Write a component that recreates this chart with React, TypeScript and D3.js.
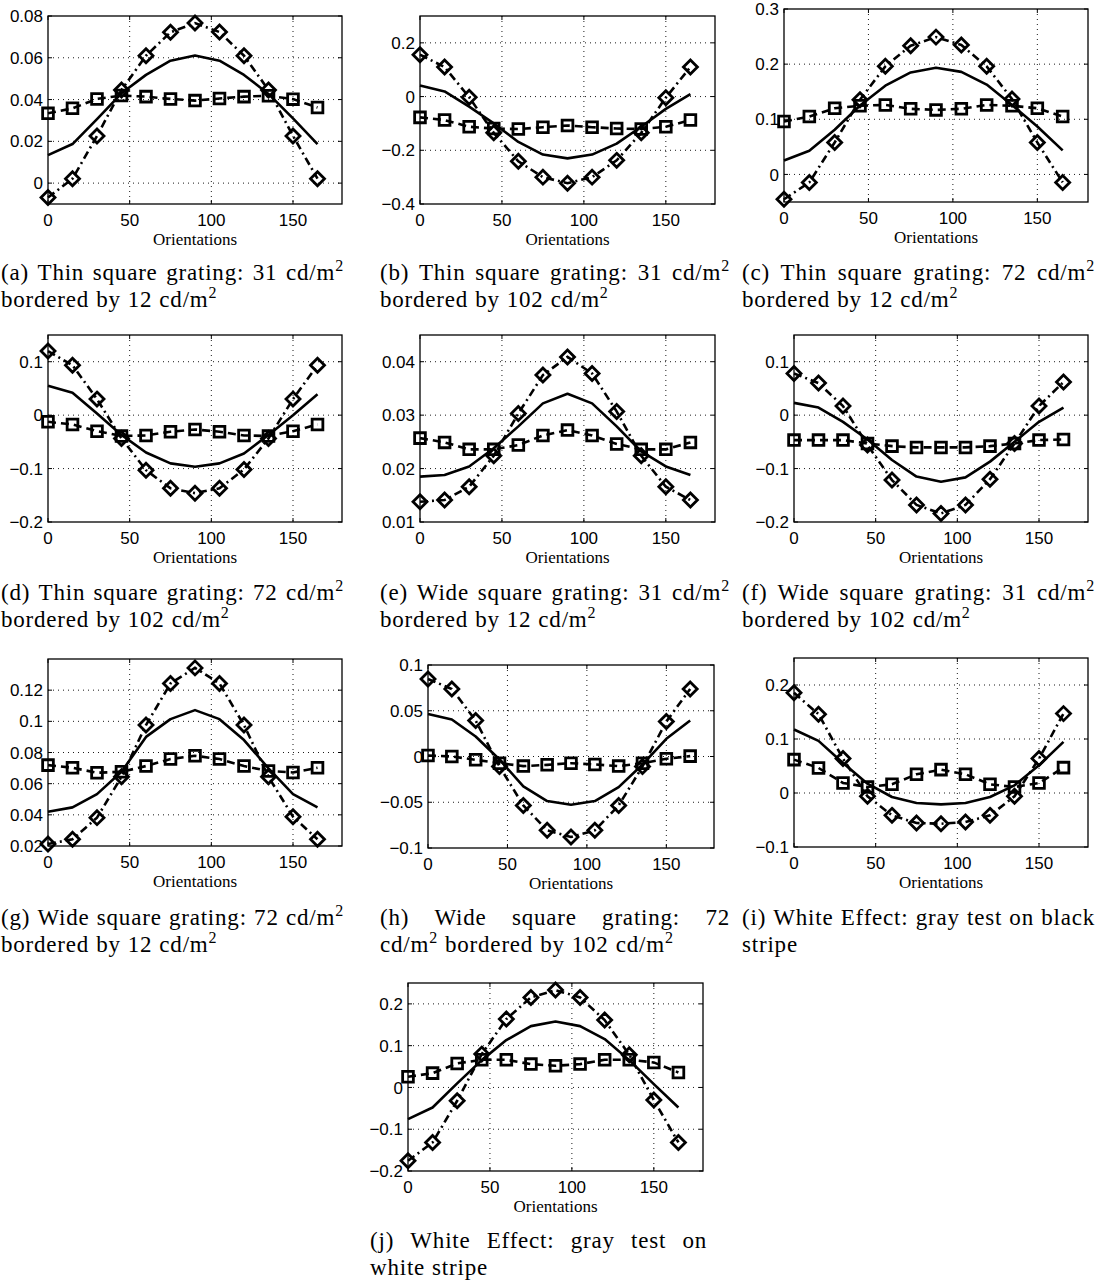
import React, { useEffect, useRef } from 'react';
import * as d3 from 'd3';

const orientations = [0, 15, 30, 45, 60, 75, 90, 105, 120, 135, 150, 165];
const xTicks = [0, 50, 100, 150];

// (a) thin 31 / 12
const aSquares = [0.0334, 0.0358, 0.0403, 0.0419, 0.0414, 0.0403, 0.0395, 0.0405, 0.0414, 0.0418, 0.0402, 0.0362];
const aDiamonds = [-0.0069, 0.0021, 0.0226, 0.0446, 0.061, 0.0722, 0.0766, 0.0723, 0.061, 0.0446, 0.0226, 0.0021];
const aSolid = [0.0134, 0.0187, 0.0306, 0.043, 0.0518, 0.0586, 0.0611, 0.0586, 0.0518, 0.0427, 0.031, 0.0187];
const aTicks = [0, 0.02, 0.04, 0.06, 0.08];

// (b) thin 31 / 102
const bSquares = [-0.0775, -0.0875, -0.1125, -0.119, -0.121, -0.114, -0.1075, -0.114, -0.119, -0.121, -0.1125, -0.0875];
const bDiamonds = [0.156, 0.11, -0.0025, -0.135, -0.241, -0.3, -0.3225, -0.3, -0.2375, -0.135, -0.004, 0.11];
const bSolid = [0.041, 0.019, -0.0375, -0.1, -0.169, -0.216, -0.23, -0.216, -0.175, -0.1125, -0.046, 0.009];
const bTicks = [-0.4, -0.2, 0, 0.2];

// (c) thin 72 / 12
const cSquares = [0.096, 0.105, 0.12, 0.1246, 0.126, 0.119, 0.117, 0.119, 0.126, 0.1246, 0.12, 0.105];
const cDiamonds = [-0.045, -0.0145, 0.058, 0.1355, 0.196, 0.2335, 0.249, 0.2347, 0.196, 0.1367, 0.058, -0.0145];
const cSolid = [0.0254, 0.043, 0.081, 0.125, 0.161, 0.185, 0.1936, 0.186, 0.163, 0.126, 0.087, 0.0436];
const cTicks = [0, 0.1, 0.2, 0.3];

// (d) thin 72 / 102
const dSquares = [-0.0125, -0.0174, -0.03, -0.039, -0.038, -0.031, -0.0268, -0.031, -0.038, -0.039, -0.03, -0.0174];
const dDiamonds = [0.12, 0.0935, 0.03, -0.0436, -0.103, -0.137, -0.146, -0.137, -0.1016, -0.0436, 0.03, 0.0935];
const dSolid = [0.055, 0.042, 0.003, -0.037, -0.07, -0.0903, -0.0966, -0.0903, -0.0717, -0.037, 0, 0.039];
const dTicks = [-0.2, -0.1, 0, 0.1];

// (e) wide 31 / 12
const eSquares = [0.0257, 0.0249, 0.0236, 0.0236, 0.0244, 0.0262, 0.0272, 0.0262, 0.0246, 0.0236, 0.0236, 0.0249];
const eDiamonds = [0.0138, 0.0141, 0.0166, 0.0224, 0.0303, 0.0375, 0.0409, 0.0378, 0.0307, 0.0224, 0.0166, 0.0141];
const eSolid = [0.0185, 0.0188, 0.0204, 0.0238, 0.0279, 0.0322, 0.034, 0.0322, 0.0279, 0.0232, 0.0204, 0.0188];
const eTicks = [0.01, 0.02, 0.03, 0.04];

// (f) wide 31 / 102
const fSquares = [-0.0467, -0.0467, -0.0467, -0.053, -0.058, -0.0604, -0.0604, -0.0604, -0.058, -0.053, -0.0467, -0.0455];
const fDiamonds = [0.078, 0.06, 0.017, -0.056, -0.1215, -0.168, -0.184, -0.168, -0.12, -0.053, 0.017, 0.062];
const fSolid = [0.023, 0.0143, -0.0125, -0.0455, -0.084, -0.115, -0.1246, -0.1165, -0.087, -0.05, -0.0125, 0.0143];
const fTicks = [-0.2, -0.1, 0, 0.1];

// (g) wide 72 / 12
const gSquares = [0.0719, 0.0702, 0.067, 0.0676, 0.0713, 0.0758, 0.0779, 0.0758, 0.0713, 0.0681, 0.0672, 0.0702];
const gDiamonds = [0.0213, 0.0243, 0.0382, 0.0644, 0.0976, 0.1243, 0.1343, 0.1243, 0.0976, 0.0644, 0.0388, 0.0243];
const gSolid = [0.042, 0.0448, 0.0533, 0.0676, 0.09, 0.1014, 0.1072, 0.1014, 0.088, 0.0698, 0.0533, 0.0448];
const gTicks = [0.02, 0.04, 0.06, 0.08, 0.1, 0.12];

// (h) wide 72 / 102
const hSquares = [0.0011, 0, -0.0036, -0.0073, -0.0105, -0.0091, -0.0073, -0.0087, -0.0105, -0.0073, -0.0025, 0.0004];
const hDiamonds = [0.0847, 0.0738, 0.0393, -0.0109, -0.0535, -0.0807, -0.088, -0.0807, -0.0535, -0.0109, 0.0382, 0.0738];
const hSolid = [0.0465, 0.0404, 0.0218, -0.0033, -0.0327, -0.0487, -0.0527, -0.0487, -0.0335, -0.0087, 0.0193, 0.0393];
const hTicks = [-0.1, -0.05, 0, 0.05, 0.1];

// (i) white effect, black stripe
const iSquares = [0.0618, 0.0464, 0.0186, 0.0111, 0.0161, 0.0346, 0.0433, 0.0346, 0.0161, 0.0111, 0.0186, 0.047];
const iDiamonds = [0.1855, 0.146, 0.0637, -0.0062, -0.0414, -0.0557, -0.0569, -0.0538, -0.0414, -0.0062, 0.0637, 0.147];
const iSolid = [0.1175, 0.0965, 0.0557, 0.0173, -0.0074, -0.0186, -0.021, -0.0186, -0.0074, 0.0142, 0.0513, 0.0946];
const iTicks = [-0.1, 0, 0.1, 0.2];

// (j) white effect, white stripe
const jSquares = [0.0255, 0.0343, 0.0575, 0.0662, 0.0662, 0.0559, 0.0519, 0.0559, 0.0662, 0.0662, 0.0599, 0.0359];
const jDiamonds = [-0.1756, -0.1317, -0.0319, 0.0798, 0.1636, 0.2155, 0.233, 0.2155, 0.1612, 0.0782, -0.0303, -0.1317];
const jSolid = [-0.0758, -0.0479, 0.0096, 0.0654, 0.1133, 0.1468, 0.158, 0.1468, 0.1157, 0.0654, 0.008, -0.0479];
const jTicks = [-0.2, -0.1, 0, 0.1, 0.2];

const captions = [
  ['(a) Thin square grating: 31 cd/m^2', 'bordered by 12 cd/m^2'],
  ['(b) Thin square grating: 31 cd/m^2', 'bordered by 102 cd/m^2'],
  ['(c) Thin square grating: 72 cd/m^2', 'bordered by 12 cd/m^2'],
  ['(d) Thin square grating: 72 cd/m^2', 'bordered by 102 cd/m^2'],
  ['(e) Wide square grating: 31 cd/m^2', 'bordered by 12 cd/m^2'],
  ['(f) Wide square grating: 31 cd/m^2', 'bordered by 102 cd/m^2'],
  ['(g) Wide square grating: 72 cd/m^2', 'bordered by 12 cd/m^2'],
  ['(h) Wide square grating: 72', 'cd/m^2 bordered by 102 cd/m^2'],
  ['(i) White Effect: gray test on black', 'stripe'],
  ['(j) White Effect: gray test on', 'white stripe'],
];

const W = 1099;
const H = 1282;

// plot boxes and caption blocks, in page pixels
const panels = [
  { sq: aSquares, di: aDiamonds, so: aSolid, ticks: aTicks, dom: [-0.01, 0.08], box: [48, 342, 16, 204], cap: [1, 344, 280] },
  { sq: bSquares, di: bDiamonds, so: bSolid, ticks: bTicks, dom: [-0.4, 0.3], box: [420, 715, 16, 204], cap: [380, 730, 280] },
  { sq: cSquares, di: cDiamonds, so: cSolid, ticks: cTicks, dom: [-0.05, 0.3], box: [784, 1088, 9, 202], cap: [742, 1095, 280] },
  { sq: dSquares, di: dDiamonds, so: dSolid, ticks: dTicks, dom: [-0.2, 0.15], box: [48, 342, 335, 522], cap: [1, 344, 600] },
  { sq: eSquares, di: eDiamonds, so: eSolid, ticks: eTicks, dom: [0.01, 0.045], box: [420, 715, 335, 522], cap: [380, 730, 600] },
  { sq: fSquares, di: fDiamonds, so: fSolid, ticks: fTicks, dom: [-0.2, 0.15], box: [794, 1088, 335, 522], cap: [742, 1095, 600] },
  { sq: gSquares, di: gDiamonds, so: gSolid, ticks: gTicks, dom: [0.02, 0.14], box: [48, 342, 659, 846], cap: [1, 344, 925] },
  { sq: hSquares, di: hDiamonds, so: hSolid, ticks: hTicks, dom: [-0.1, 0.1], box: [428, 714, 665, 848], cap: [380, 730, 925] },
  { sq: iSquares, di: iDiamonds, so: iSolid, ticks: iTicks, dom: [-0.1, 0.25], box: [794, 1088, 658, 847], cap: [742, 1095, 925] },
  { sq: jSquares, di: jDiamonds, so: jSolid, ticks: jTicks, dom: [-0.2, 0.25], box: [408, 703, 983, 1171], cap: [370, 707, 1248] },
];

const fmt = (v: number) => {
  const s = String(+v.toFixed(4));
  return s.replace('-', '\u2212');
};

const sansFont = '"Liberation Sans", Arial, sans-serif';
const serifFont = '"Liberation Serif", "Times New Roman", serif';

const App: React.FC = () => {
  const svgRef = useRef<SVGSVGElement>(null);

  useEffect(() => {
    if (!svgRef.current) return;
    const svg = d3.select(svgRef.current);
    svg.selectAll('*').remove();

    panels.forEach((p, pi) => {
      const [L, R, T, B] = p.box;
      const x = d3.scaleLinear().domain([0, 180]).range([L, R]);
      const y = d3.scaleLinear().domain(p.dom).range([B, T]);
      const g = svg.append('g');

      // dotted grid
      xTicks.filter(t => t > 0).forEach(t => {
        g.append('line').attr('x1', x(t)).attr('x2', x(t)).attr('y1', T).attr('y2', B)
          .attr('stroke', '#000').attr('stroke-width', 0.9).attr('stroke-dasharray', '1,4');
      });
      p.ticks.filter(t => y(t) > T + 1 && y(t) < B - 1).forEach(t => {
        g.append('line').attr('x1', L).attr('x2', R).attr('y1', y(t)).attr('y2', y(t))
          .attr('stroke', '#000').attr('stroke-width', 0.9).attr('stroke-dasharray', '1,4');
      });

      const line = d3.line<number>().x((_, i) => x(orientations[i])).y(d => y(d));

      g.append('path').attr('d', line(p.so)).attr('fill', 'none')
        .attr('stroke', '#000').attr('stroke-width', 2.6).attr('stroke-linejoin', 'round');
      g.append('path').attr('d', line(p.sq)).attr('fill', 'none')
        .attr('stroke', '#000').attr('stroke-width', 2.6).attr('stroke-dasharray', '8,5');
      g.append('path').attr('d', line(p.di)).attr('fill', 'none')
        .attr('stroke', '#000').attr('stroke-width', 2.6).attr('stroke-dasharray', '8,4,2,4');

      const sqSym = d3.symbol().type(d3.symbolSquare).size(115);
      g.selectAll('path.sq').data(p.sq).enter().append('path')
        .attr('class', 'sq')
        .attr('d', sqSym)
        .attr('transform', (d, i) => `translate(${x(orientations[i])},${y(d)})`)
        .attr('fill', 'none').attr('stroke', '#000').attr('stroke-width', 2.8);
      const dia = 7;
      g.selectAll('path.di').data(p.di).enter().append('path')
        .attr('class', 'di')
        .attr('d', `M0,${-dia}L${dia},0L0,${dia}L${-dia},0Z`)
        .attr('transform', (d, i) => `translate(${x(orientations[i])},${y(d)})`)
        .attr('fill', 'none').attr('stroke', '#000').attr('stroke-width', 2.8);

      // box and inner ticks
      g.append('rect').attr('x', L).attr('y', T).attr('width', R - L).attr('height', B - T)
        .attr('fill', 'none').attr('stroke', '#000').attr('stroke-width', 1.3);
      xTicks.forEach(t => {
        g.append('line').attr('x1', x(t)).attr('x2', x(t)).attr('y1', B).attr('y2', B - 4).attr('stroke', '#000');
        g.append('line').attr('x1', x(t)).attr('x2', x(t)).attr('y1', T).attr('y2', T + 4).attr('stroke', '#000');
        g.append('text').attr('x', x(t)).attr('y', B + 22).attr('text-anchor', 'middle')
          .attr('font-family', sansFont).attr('font-size', 17).text(fmt(t));
      });
      p.ticks.forEach(t => {
        g.append('line').attr('x1', L).attr('x2', L + 4).attr('y1', y(t)).attr('y2', y(t)).attr('stroke', '#000');
        g.append('line').attr('x1', R).attr('x2', R - 4).attr('y1', y(t)).attr('y2', y(t)).attr('stroke', '#000');
        g.append('text').attr('x', L - 5).attr('y', y(t)).attr('dy', '0.36em').attr('text-anchor', 'end')
          .attr('font-family', sansFont).attr('font-size', 17).text(fmt(t));
      });
      g.append('text').attr('x', (L + R) / 2).attr('y', B + 41).attr('text-anchor', 'middle')
        .attr('font-family', serifFont).attr('font-size', 17)
        .text('Orientations');

      // caption, justified like LaTeX
      const [cx0, cx1, cy] = p.cap;
      const lines = captions[pi];
      lines.forEach((ln, li) => {
        const words = ln.split(' ');
        const nodes = words.map(w => {
          const t = g.append('text').attr('y', cy + li * 27)
            .attr('font-family', serifFont)
            .attr('font-size', 23).attr('letter-spacing', 0.8);
          const parts = w.split('^');
          t.append('tspan').text(parts[0]);
          if (parts[1]) t.append('tspan').attr('font-size', 16).attr('dy', -9).text(parts[1]);
          return t;
        });
        const widths = nodes.map(n => (n.node() as SVGTextElement).getComputedTextLength());
        const total = d3.sum(widths);
        const justify = li < lines.length - 1 && words.length > 1;
        const gap = justify ? (cx1 - cx0 - total) / (words.length - 1) : 7;
        let cur = cx0;
        nodes.forEach((n, k) => {
          n.attr('x', cur);
          cur += widths[k] + gap;
        });
      });
    });
  }, []);

  return (
    <svg ref={svgRef} width={W} height={H} viewBox={`0 0 ${W} ${H}`}
      style={{ position: 'absolute', left: 0, top: 0, background: '#fff' }} />
  );
};

export default App;
